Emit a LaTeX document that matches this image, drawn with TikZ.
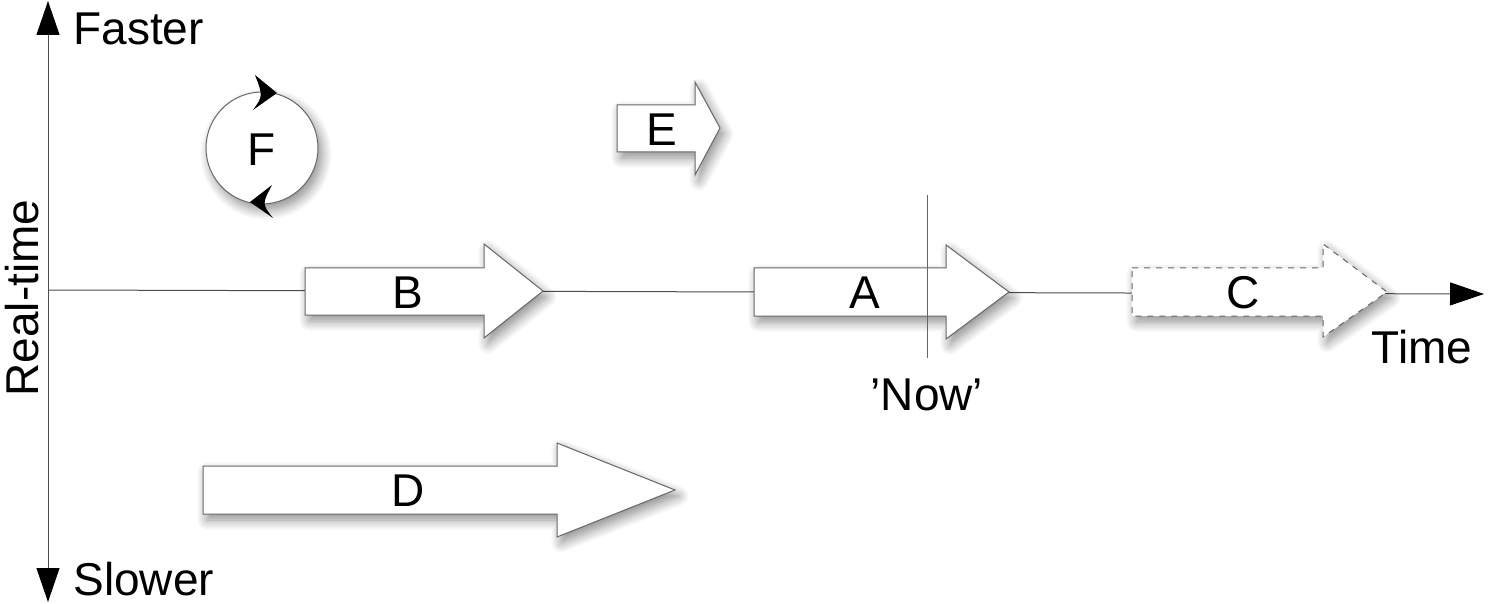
\documentclass[tikz,border=0pt]{standalone}
\usepackage{fontspec}
\setmainfont{Liberation Sans}
\usetikzlibrary{arrows.meta,shadows.blur}

\tikzset{
  axisline/.style={draw=black!70, line width=0.5pt},
  axistip/.tip={Triangle[length=17pt,width=11.5pt,color=black]},
  softshadow/.style={blur shadow={shadow xshift=2pt, shadow yshift=-3pt, shadow blur radius=5pt, shadow blur steps=10, shadow opacity=45}},
  arrowbox/.style={draw=black!60, line width=0.5pt, fill=white, softshadow},
  label/.style={font=\fontsize{23}{27}\selectfont, inner sep=0pt}
}

\begin{document}
\begin{tikzpicture}[x=0.5pt,y=-0.5pt]
\useasboundingbox (0,0) rectangle (1488,604);

% axes
\coordinate (origin) at (48,290);
\coordinate (faster) at (48,1);
\coordinate (slower) at (48,602);
\coordinate (timeend) at (1484,294);
\draw[axisline, axistip-axistip] (faster) -- (slower);
\draw[axisline, -axistip] (origin) -- (timeend);

% 'Now' marker
\coordinate (nowtop) at (927,195);
\coordinate (nowbot) at (927,358);

% arrow B
\draw[arrowbox] (305,268) -- (484,268) -- (484,244) -- (543,291) -- (484,338) -- (484,315) -- (305,315) -- cycle;
% arrow A
\draw[arrowbox] (754,268) -- (946,268) -- (946,245) -- (1009,292) -- (946,339) -- (946,316) -- (754,316) -- cycle;
\draw[axisline, draw=black!60] (nowtop) -- (nowbot);
% arrow C (dashed)
\draw[arrowbox, dashed] (1132,268) -- (1323,268) -- (1323,244) -- (1387,292) -- (1323,337) -- (1323,316) -- (1132,316) -- cycle;
% arrow D
\draw[arrowbox] (203,466) -- (557,466) -- (557,443) -- (675,490) -- (557,537) -- (557,514) -- (203,514) -- cycle;
% arrow E
\draw[arrowbox] (617,105) -- (695,105) -- (695,82) -- (720,128) -- (695,175) -- (695,152) -- (617,152) -- cycle;

% circle F
\node[circle, minimum size=56pt, inner sep=0pt, draw=black!60, line width=0.5pt, fill=white, softshadow] (Fc) at (262,148) {};
\fill[black] (255,75) -- (277,93) -- (253,110) .. controls (263,96) .. cycle;
\fill[black] (272,185) -- (250,202) -- (273,218) .. controls (262,204) .. cycle;

% labels
\node[label] (F) at (262,150) {F};
\node[label] (E) at (662,130) {E};
\node[label] (B) at (408,293) {B};
\node[label] (A) at (865,293) {A};
\node[label] (C) at (1243,293) {C};
\node[label] (D) at (408,491) {D};
\node[label, anchor=west] (fastertxt) at (73,29) {Faster};
\node[label, anchor=west] (slowertxt) at (73,579) {Slower};
\node[label, rotate=90] (realtime) at (22,298) {Real-time};
\node[label] (timetxt) at (1422,347) {Time};
\node[label] (now) at (927,395) {’Now’};

\end{tikzpicture}
\end{document}
